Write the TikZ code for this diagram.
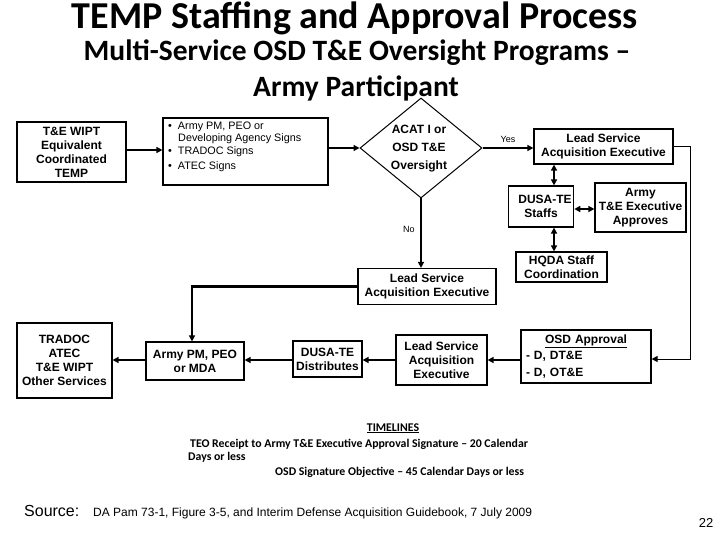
\documentclass[tikz,border=0pt]{standalone}
\usepackage{fontspec}
\setmainfont{Liberation Sans}
\newfontfamily\calib{Carlito}
\usetikzlibrary{shapes.geometric,arrows.meta}
\tikzset{
  box/.style={draw, line width=1.2pt, inner sep=2pt, align=center, font=\fontsize{12}{14}\selectfont\bfseries},
  thick arrow/.style={line width=2.2pt, -{Triangle[length=6pt,width=6pt]}},
  dbl arrow/.style={line width=2.2pt, {Triangle[length=6pt,width=6pt]}-{Triangle[length=6pt,width=6pt]}},
  thin arrow/.style={line width=1pt, -{Triangle[length=6pt,width=6pt]}},
  lbl/.style={font=\fontsize{9}{11}\selectfont},
  tlfont/.style={font=\calib\fontsize{11.8}{13}\selectfont\bfseries},
}
\begin{document}
\begin{tikzpicture}[x=1pt,y=-1pt]
\useasboundingbox (0,0) rectangle (720,540);
% titles
\node[anchor=base, inner sep=0pt, font=\calib\fontsize{38}{42}\selectfont\bfseries] (title) at (355,28.5) {TEMP Staffing and Approval Process};
\node[anchor=base, inner sep=0pt, font=\calib\fontsize{29.5}{32}\selectfont\bfseries] (sub1) at (357,61) {Multi-Service OSD T\&E Oversight Programs –};
\node[anchor=base, inner sep=0pt, font=\calib\fontsize{29.5}{32}\selectfont\bfseries] (sub2) at (356,97) {Army Participant};

% boxes
\node[box, minimum width=109pt, minimum height=60pt] (wipt) at (71.5,152) {T\&E WIPT\\Equivalent\\Coordinated\\TEMP};
\node[draw, line width=1.2pt, minimum width=165pt, minimum height=67pt] (signs) at (245.5,151.5) {};
\node[anchor=north west, align=left, inner sep=0pt, font=\fontsize{10.8}{12.5}\selectfont] (signstext) at (168,121.5)
  {\textbullet\ \ Army PM, PEO or\\\hspace{10pt}Developing Agency Signs\\\textbullet\ \ TRADOC Signs\\[3pt]\textbullet\ \ ATEC Signs};
\node[draw, line width=1pt, shape=diamond, minimum width=122pt, minimum height=100pt, inner sep=0pt] (dia) at (421,148) {};
\node[align=center, font=\fontsize{12}{18}\selectfont\bfseries] (diatext) at (419,149) {ACAT I or\\OSD T\&E\\Oversight};
\node[box, minimum width=139pt, minimum height=35pt] (lsa1) at (603.5,146.5) {Lead Service\\Acquisition Executive};
\node[box, minimum width=50pt, minimum height=41pt] (dusa) at (541,206.5) {\hspace{8pt}DUSA-TE\\Staffs};
\node[box, minimum width=91pt, minimum height=49pt] (armyte) at (640.5,207.5) {Army\\T\&E Executive\\Approves};
\node[box, minimum width=91pt, minimum height=30pt] (hqda) at (561.5,267) {HQDA Staff\\Coordination};
\node[box, minimum width=138pt, minimum height=36pt] (lsa2) at (427,286.5) {Lead Service\\Acquisition Executive};
\node[box, minimum width=95pt, minimum height=75pt] (tradoc) at (64.5,360.5) {TRADOC\\ATEC\\T\&E WIPT\\Other Services};
\node[box, minimum width=98pt, minimum height=38pt] (armypm) at (195,361) {Army PM, PEO\\or MDA};
\node[box, minimum width=69pt, minimum height=36pt] (dusadist) at (327.5,359) {DUSA-TE\\Distributes};
\node[box, minimum width=91pt, minimum height=50pt] (lsa3) at (441.5,360) {Lead Service\\Acquisition\\Executive};
\node[box, minimum width=130pt, minimum height=53pt, text width=120pt, align=left, font=\fontsize{12}{16.5}\selectfont\bfseries] (osd) at (586,356.5)
  {\makebox[\linewidth]{\underline{OSD Approval}}\\- D, DT\&E\\- D, OT\&E};

% connectors
\coordinate (vx) at (554,0);
\draw[thick arrow] (wipt.east |- 0,150) -- (signs.west |- 0,150);
\draw[thick arrow] (signs.east |- 0,148) -- (dia.west);
\draw[thick arrow] (dia.east) -- (dia.east -| lsa1.west) node[midway, above, lbl, yshift=1pt] (yes) {Yes};
\draw[dbl arrow] (vx |- lsa1.south) -- (vx |- dusa.north);
\draw[dbl arrow] (dusa.east |- 0,209) -- (armyte.west |- 0,209);
\draw[dbl arrow] (vx |- dusa.south) -- (vx |- hqda.north);
\draw[thin arrow] (lsa1.east) -- ++(17,0) coordinate (rc) -- (rc |- 0,359) -- (osd.east |- 0,359);
\draw[thick arrow] (dia.south) -- (dia.south |- lsa2.north) node[pos=0.45, left, lbl, xshift=-2pt] (no) {No};
\draw[thick arrow] (lsa2.west) -| (armypm.north -| 192,0);
\draw[thick arrow] (osd.west |- 0,360) -- (lsa3.east |- 0,360);
\draw[thick arrow] (lsa3.west |- 0,360) -- (dusadist.east |- 0,360);
\draw[thick arrow] (dusadist.west |- 0,360) -- (armypm.east |- 0,360);
\draw[thick arrow] (armypm.west |- 0,360) -- (tradoc.east |- 0,360);

% timelines
\node[anchor=base, tlfont] (tl) at (393,431) {\underline{TIMELINES}};
\node[anchor=base west, inner sep=0pt, tlfont] (tl1) at (190,447) {TEO Receipt to Army T\&E Executive Approval Signature – 20 Calendar};
\node[anchor=base west, inner sep=0pt, tlfont] (tl2) at (188,460) {Days or less};
\node[anchor=base west, inner sep=0pt, tlfont] (tl3) at (275,475) {OSD Signature Objective – 45 Calendar Days or less};

% source
\node[anchor=base west, inner sep=0pt, font=\fontsize{16}{18}\selectfont] (src) at (24,516) {Source:};
\node[anchor=base west, inner sep=0pt, font=\fontsize{12}{14}\selectfont] (srctext) at (93,516) {DA Pam 73-1, Figure 3-5, and Interim Defense Acquisition Guidebook, 7 July 2009};
\node[anchor=base, inner sep=0pt, font=\fontsize{13}{15}\selectfont] (pg) at (706,527) {22};
\end{tikzpicture}
\end{document}
